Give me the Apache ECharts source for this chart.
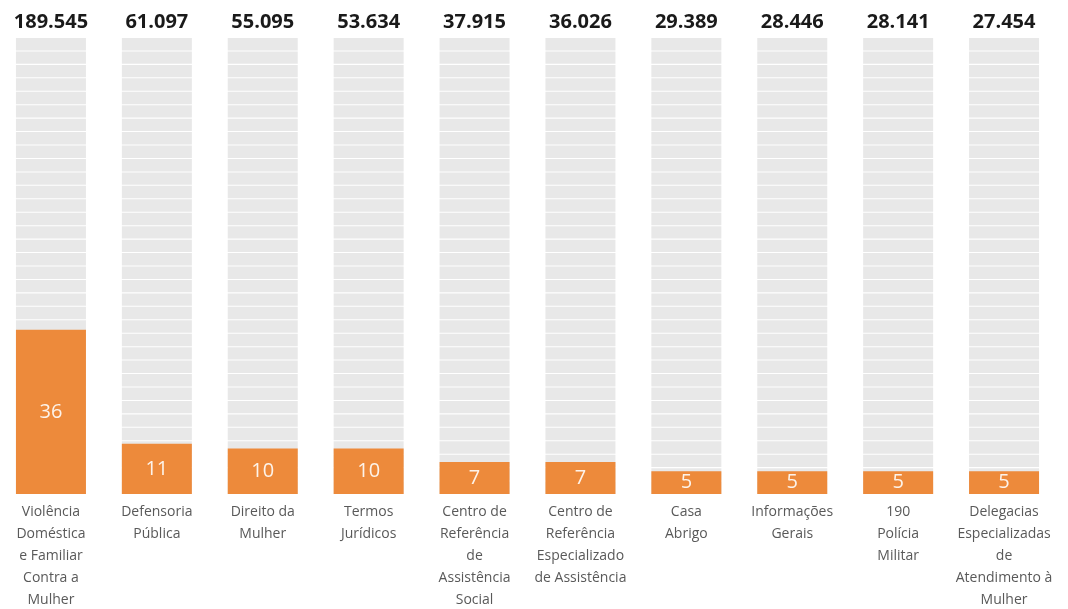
<!DOCTYPE html>
<html>
<head>
    <meta charset="utf-8">
    <title>Temas mais buscados</title>
    <script src="https://cdn.jsdelivr.net/npm/echarts@6/dist/echarts.min.js"></script>
    <style>
        html, body { margin: 0; padding: 0; background: #fff; }
        #chart { width: 1068px; height: 609px; }
    </style>
</head>
<body>
<div id="chart"></div>
<script>
    // categorias (rótulos do eixo)
    var categories = [
        'Violência\nDoméstica\ne Familiar\nContra a\nMulher',
        'Defensoria\nPública',
        'Direito da\nMulher',
        'Termos\nJurídicos',
        'Centro de\nReferência\nde\nAssistência\nSocial',
        'Centro de\nReferência\nEspecializado\nde Assistência',
        'Casa\nAbrigo',
        'Informações\nGerais',
        '190\nPolícia\nMilitar',
        'Delegacias\nEspecializadas\nde\nAtendimento à\nMulher'
    ];
    // acessos (rótulos no topo)
    var counts = ['189.545', '61.097', '55.095', '53.634', '37.915', '36.026', '29.389', '28.446', '28.141', '27.454'];
    // percentuais (barras laranja)
    var percents = [36, 11, 10, 10, 7, 7, 5, 5, 5, 5];
    // fundo cinza = 100%
    var full = [100, 100, 100, 100, 100, 100, 100, 100, 100, 100];

    var chart = echarts.init(document.getElementById('chart'));

    var option = {
        animation: false,
        grid: { left: -2, width: 1059, top: 38, bottom: 115, outerBoundsMode: 'none' },
        xAxis: {
            type: 'category',
            data: categories,
            axisLine: { show: false },
            axisTick: { show: false },
            axisLabel: {
                interval: 0,
                margin: 7,
                color: '#595959',
                fontFamily: 'Open Sans',
                fontSize: 14,
                lineHeight: 22
            }
        },
        yAxis: {
            type: 'value',
            min: 0,
            max: 100,
            show: false
        },
        series: [{
            type: 'pictorialBar',
            data: full,
            symbol: 'rect',
            symbolSize: [70, 12.4],
            symbolMargin: 0.7,
            symbolRepeat: true,
            symbolPosition: 'start',
            itemStyle: { color: '#e8e8e8' },
            label: {
                show: true,
                position: 'top',
                distance: 6,
                color: '#1a1a1a',
                fontFamily: 'Open Sans',
                fontWeight: 'bold',
                fontSize: 20,
                formatter: function (p) { return counts[p.dataIndex]; }
            },
            z: 1
        }, {
            type: 'bar',
            data: percents,
            barWidth: 70,
            itemStyle: { color: '#ed8a3b' },
            label: {
                show: true,
                position: 'inside',
                color: '#fdf3ea',
                fontFamily: 'Open Sans',
                fontSize: 20
            },
            z: 2
        }]
    };

    chart.setOption(option);
</script>
</body>
</html>
